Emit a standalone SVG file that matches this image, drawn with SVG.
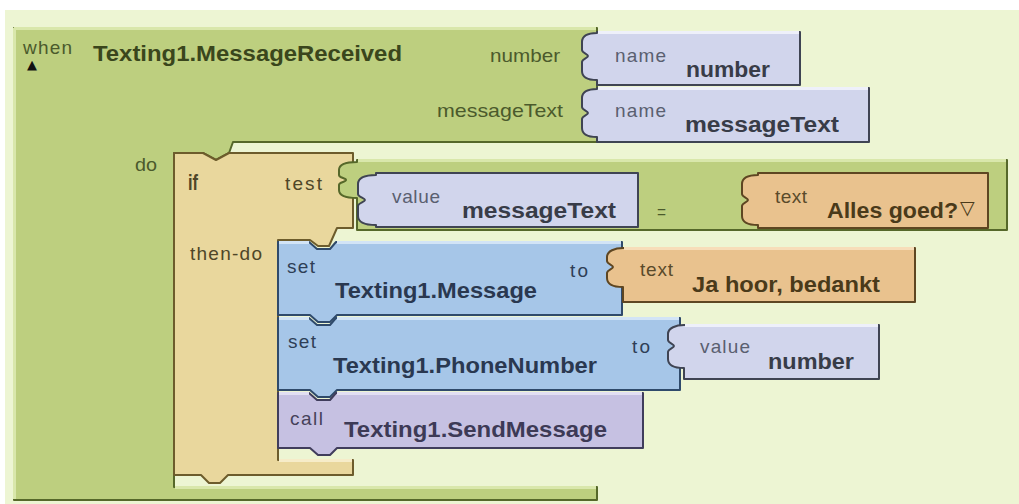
<svg xmlns="http://www.w3.org/2000/svg" width="1019" height="504" viewBox="0 0 1019 504">
  <style>
    .s { font-family: "Liberation Sans", Arial, sans-serif; font-size: 19px; }
    .b { font-family: "Liberation Sans", Arial, sans-serif; font-size: 22px; font-weight: bold; }
    .sym { font-family: "DejaVu Sans", sans-serif; }
    .blk { stroke-width: 2; stroke-linejoin: round; }
    .hl { fill: none; stroke-width: 3; }
    .green { fill: #bdcf7f; stroke: #56682a; }
    .tan { fill: #e9d79d; stroke: #6d5c2c; }
    .lav { fill: #d1d5ec; stroke: #3f4453; }
    .blue { fill: #a6c6e8; stroke: #2f4a6b; }
    .orange { fill: #e9c28e; stroke: #5e4622; }
    .purple { fill: #c6c1e2; stroke: #403d5c; }
    .hl-green { stroke: #d9e7ab; }
    .hl-tan { stroke: #f6ecc9; }
    .hl-lav { stroke: #eef0fa; }
    .hl-blue { stroke: #d2e4f6; }
    .hl-orange { stroke: #f7ddb9; }
    .hl-purple { stroke: #e2dff3; }
    .t-green { fill: #4b5a2c; }
    .tb-green { fill: #3a461c; }
    .t-tan { fill: #4e4628; }
    .t-lav { fill: #5a5f70; }
    .tb-lav { fill: #383c48; }
    .t-blue { fill: #2e3e56; }
    .tb-blue { fill: #2a3850; }
    .t-orange { fill: #5a4a2a; }
    .tb-orange { fill: #4a3a1a; }
    .t-purple { fill: #45415a; }
    .tb-purple { fill: #3d3a56; }
  </style>

  <!-- workspace background -->
  <rect x="0" y="0" width="1019" height="504" fill="#ffffff"/>
  <rect x="5" y="10" width="1014" height="494" fill="#edf5d3"/>

  <!-- event handler: when Texting1.MessageReceived -->
  <g id="when-block">
    <path class="blk green" d="M14,28 H597 V142 H233 L229,153 L216,160 L203,153 H174 V487 H597 V500 H14 Z"/>
    <path class="hl hl-green" d="M14,28.5 H596 M14.5,28 V499 M175,487.5 H596"/>
    <text class="s t-green" x="23" y="54" font-size="15" textLength="49" lengthAdjust="spacing">when</text>
    <text class="sym" x="27" y="69" font-size="13" fill="#111">▲</text>
    <text class="b tb-green" x="93" y="61" textLength="309" lengthAdjust="spacingAndGlyphs">Texting1.MessageReceived</text>
    <text class="s t-green" x="490" y="62" textLength="70" lengthAdjust="spacingAndGlyphs">number</text>
    <text class="s t-green" x="437" y="117" textLength="126" lengthAdjust="spacingAndGlyphs">messageText</text>
    <text class="s t-green" x="135" y="171" textLength="22" lengthAdjust="spacingAndGlyphs">do</text>
  </g>

  <!-- event parameters -->
  <g id="param-number">
    <path class="blk lav" d="M597,32 H800 V85 H597 V80 C589,80 582,78 582,71 V62 C582,59 588,58 588,56 C588,54 582,53 582,50 V42 C582,35 589,33 597,33 Z"/>
    <path class="hl hl-lav" d="M598,32.5 H799"/>
    <text class="s t-lav" x="615" y="62" font-size="17" textLength="51" lengthAdjust="spacing">name</text>
    <text class="b tb-lav" x="686" y="77" textLength="84" lengthAdjust="spacingAndGlyphs">number</text>
  </g>

  <g id="param-messageText">
    <path class="blk lav" d="M597,88 H869 V142 H597 V137 C589,137 582,135 582,128 V119 C582,116 588,115 588,113 C588,111 582,110 582,107 V98 C582,91 589,89 597,89 Z"/>
    <path class="hl hl-lav" d="M598,88.5 H868"/>
    <text class="s t-lav" x="615" y="117" font-size="17" textLength="51" lengthAdjust="spacing">name</text>
    <text class="b tb-lav" x="685" y="132" textLength="154" lengthAdjust="spacingAndGlyphs">messageText</text>
  </g>

  <!-- if / then-do -->
  <g id="if-block">
    <path class="blk tan" d="M174,153 H203 L216,160 L229,153 H353 V228 H337 L329,246 H318 L310,240 H278 V460 H353 V475 H228 L220,483 H209 L201,475 H174 Z"/>
    <path class="hl hl-tan" d="M279,460.5 H352"/>
    <text class="b t-tan" x="188" y="190" textLength="10" lengthAdjust="spacingAndGlyphs">if</text>
    <text class="s t-tan" x="285" y="190" textLength="37" lengthAdjust="spacing">test</text>
    <text class="s t-tan" x="190" y="260" textLength="72" lengthAdjust="spacing">then-do</text>
  </g>

  <!-- test: messageText = "Alles goed?" -->
  <g id="compare-block">
    <path class="blk green" d="M357,160 H1007 V230 H357 V198 C348,198 339,196 339,190 V185 C339,182 346,182 346,180 C346,178 339,178 339,175 V170 C339,164 348,162 357,162 Z"/>
    <path class="hl hl-green" d="M358,160.5 H1006"/>
    <text class="s t-green" x="657" y="218" textLength="9" lengthAdjust="spacingAndGlyphs">=</text>
  </g>

  <g id="value-messageText">
    <path class="blk lav" d="M376,173 H638 V227 H376 V225 C367,225 358,223 358,216 V206 C358,203 365,202 365,200 C365,198 358,197 358,194 V184 C358,177 367,175 376,175 Z"/>
    <text class="s t-lav" x="392" y="203" font-size="17" textLength="48" lengthAdjust="spacing">value</text>
    <text class="b tb-lav" x="462" y="218" textLength="154" lengthAdjust="spacingAndGlyphs">messageText</text>
  </g>

  <g id="text-alles-goed">
    <path class="blk orange" d="M758,173 H988 V228 H758 V225 C750,225 742,223 742,216 V206 C742,203 748,202 748,200 C748,198 742,197 742,194 V184 C742,177 750,175 758,175 Z"/>
    <text class="s t-orange" x="775" y="203" font-size="17" textLength="32" lengthAdjust="spacing">text</text>
    <text class="b tb-orange" x="827" y="218" textLength="131" lengthAdjust="spacingAndGlyphs">Alles goed?</text>
    <text class="sym tb-orange" x="960" y="214" font-size="19">▽</text>
  </g>

  <!-- then-do statements -->
  <g id="set-message">
    <path class="blk blue" d="M278,242 H309 L317,249 H330 L336,242 H622 V315 H337 L330,322 H318 L310,315 H278 Z"/>
    <path class="hl hl-blue" d="M279,242.5 H309 M337,242.5 H621"/>
    <text class="s t-blue" x="287" y="273" font-size="17" textLength="28" lengthAdjust="spacing">set</text>
    <text class="b tb-blue" x="335" y="298" textLength="202" lengthAdjust="spacingAndGlyphs">Texting1.Message</text>
    <text class="s t-blue" x="570" y="277" font-size="17" textLength="18" lengthAdjust="spacing">to</text>
  </g>

  <g id="text-ja-hoor">
    <path class="blk orange" d="M623,248 H915 V302 H623 V287 C615,287 607,285 607,278 V273 C607,270 613,269 613,267 C613,265 607,264 607,261 V257 C607,251 615,248 623,248 Z"/>
    <path class="hl hl-orange" d="M624,248.5 H914"/>
    <text class="s t-orange" x="640" y="276" font-size="17" textLength="33" lengthAdjust="spacing">text</text>
    <text class="b tb-orange" x="692" y="292" textLength="188" lengthAdjust="spacingAndGlyphs">Ja hoor, bedankt</text>
  </g>

  <g id="set-phonenumber">
    <path class="blk blue" d="M278,318 H309 L317,325 H330 L336,318 H680 V390 H337 L330,397 H318 L310,390 H278 Z"/>
    <path class="hl hl-blue" d="M279,318.5 H309 M337,318.5 H679"/>
    <text class="s t-blue" x="288" y="348" font-size="17" textLength="28" lengthAdjust="spacing">set</text>
    <text class="b tb-blue" x="333" y="373" textLength="264" lengthAdjust="spacingAndGlyphs">Texting1.PhoneNumber</text>
    <text class="s t-blue" x="632" y="353" font-size="17" textLength="18" lengthAdjust="spacing">to</text>
  </g>

  <g id="value-number">
    <path class="blk lav" d="M684,325 H879 V379 H684 V368 C676,368 668,366 668,359 V352 C668,349 674,348 674,346 C674,344 668,343 668,340 V334 C668,328 676,325 684,325 Z"/>
    <path class="hl hl-lav" d="M685,325.5 H878"/>
    <text class="s t-lav" x="700" y="353" font-size="17" textLength="50" lengthAdjust="spacing">value</text>
    <text class="b tb-lav" x="768" y="369" textLength="86" lengthAdjust="spacingAndGlyphs">number</text>
  </g>

  <g id="call-sendmessage">
    <path class="blk purple" d="M278,393 H309 L317,400 H330 L336,393 H643 V448 H337 L330,455 H318 L310,448 H278 Z"/>
    <path class="hl hl-purple" d="M279,393.5 H309 M337,393.5 H642"/>
    <text class="s t-purple" x="290" y="425" font-size="17" textLength="33" lengthAdjust="spacing">call</text>
    <text class="b tb-purple" x="344" y="437" textLength="263" lengthAdjust="spacingAndGlyphs">Texting1.SendMessage</text>
  </g>
</svg>
